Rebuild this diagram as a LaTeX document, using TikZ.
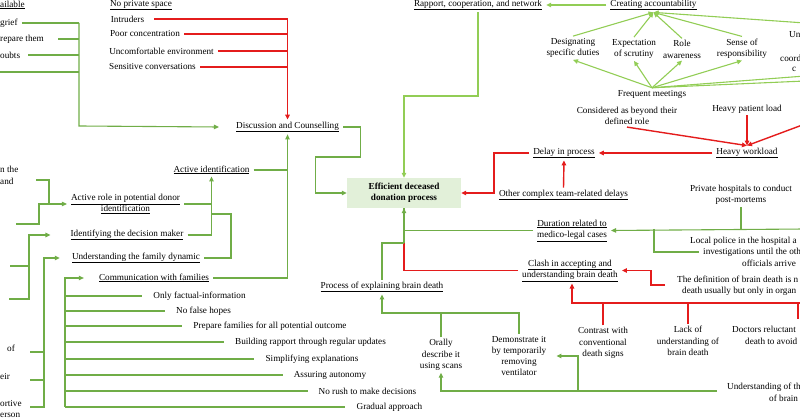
\documentclass[tikz,border=0pt]{standalone}
\usepackage{fontspec}
\setmainfont{Liberation Serif}
\usetikzlibrary{arrows.meta}
\definecolor{dgreen}{RGB}{112,173,71}
\definecolor{lgreen}{RGB}{146,205,85}
\definecolor{dred}{RGB}{228,28,28}
\definecolor{boxfill}{RGB}{226,240,217}

\begin{document}
\begin{tikzpicture}[x=1pt, y=-1pt,
  every node/.style={font=\fontsize{9.2}{11.3}\selectfont, inner xsep=4pt, inner ysep=2pt, align=center},
  frag/.style={anchor=west},
  gline/.style={draw=dgreen, line width=1.1pt},
  lline/.style={draw=lgreen, line width=1.1pt},
  rline/.style={draw=dred, line width=1.4pt},
  >={Triangle[length=5pt,width=4.5pt]}]

  \useasboundingbox (0,0) rectangle (800,419);
  \clip (0,0) rectangle (800,419);

  % Central box
  \node[fill=boxfill, minimum width=114pt, minimum height=30pt, font=\fontsize{9.2}{11.3}\selectfont\bfseries] (Efficient) at (404,193) {Efficient deceased\\donation process};

  % Upper left: cut off items and discussion
  \node[frag] (Available) at (-4,5) {\underline{ailable}};
  \node[frag] (Grief) at (-4,23) {grief};
  \node[frag] (Prepare) at (-4,39) {repare them};
  \node[frag] (Doubts) at (-4,55) {oubts};
  \coordinate (LeftIn) at (0,72);
  \coordinate (LeftJoin) at (79,126);
  \node (Discussion) at (287.5,127) {\underline{Discussion and Counselling}};

  % No private space
  \node (NoSpace) at (141,5) {\underline{No private space}};
  \node (Intruders) at (127.5,19) {Intruders};
  \node (Concentration) at (145,34) {Poor concentration};
  \node (Uncomfortable) at (161.5,51) {Uncomfortable environment};
  \node (Sensitive) at (152.5,67) {Sensitive conversations};

  % Active identification
  \node[frag] (Role1) at (-4,169) {n the};
  \node[frag] (Role2) at (-4,181) {and};
  \coordinate (RoleIn1) at (36,180);
  \coordinate (RoleIn2) at (16,224);
  \node (ActiveRole) at (125.5,204) {\underline{Active role in potential donor}\\\underline{identification}};
  \node (ActiveId) at (211.5,170) {\underline{Active identification}};
  \node (DecisionMaker) at (127,235) {\underline{Identifying the decision maker}};
  \node (FamilyDynamic) at (136,258) {\underline{Understanding the family dynamic}};
  \coordinate (DynJoin) at (231,214);
  \coordinate (DecIn1) at (10,266);
  \coordinate (DecIn2) at (9,299);
  \node[frag] (Left1) at (3,348) {of};
  \node[frag] (Left2) at (-4,376) {eir};
  \node[frag] (Left3) at (-4,403) {ortive};
  \node[frag] (Left4) at (-4,415) {erson};
  \coordinate (DynIn1) at (30,352);
  \coordinate (DynIn2) at (30,380);
  \coordinate (DynIn3) at (30,407);

  % Communication with families
  \node (Communication) at (154,278) {\underline{Communication with families}};
  \coordinate (ComJoin) at (65,278);
  \node (Item1) at (199.5,296) {Only factual-information};
  \node (Item2) at (203.5,311) {No false hopes};
  \node (Item3) at (270,326) {Prepare families for all potential outcome};
  \node (Item4) at (310.5,342) {Building rapport through regular updates};
  \node (Item5) at (312,359) {Simplifying explanations};
  \node (Item6) at (330,375) {Assuring autonomy};
  \node (Item7) at (367.5,391) {No rush to make decisions};
  \node (Item8) at (389.5,407) {Gradual approach};

  % Rapport and accountability
  \node (Rapport) at (478,5) {\underline{Rapport, cooperation, and network}};
  \coordinate (RapJoin) at (404,96);
  \node (Accountability) at (653.5,5) {\underline{Creating accountability}};
  \node (Duties) at (573,48) {Designating\\specific duties};
  \node (Scrutiny) at (634,49) {Expectation\\of scrutiny};
  \node (Awareness) at (682,49.5) {Role\\awareness};
  \node (Responsibility) at (742,48.5) {Sense of\\responsibility};
  \node[frag] (Un1) at (785,35) {Un};
  \node[frag] (Un2) at (776,58) {coord};
  \node[frag] (Un3) at (788,69) {c};
  \coordinate (UnTop) at (805,23);
  \coordinate (UnIn1) at (805,76);
  \coordinate (UnIn2) at (805,81);
  \node (Meetings) at (652,94) {Frequent meetings};

  % Workload and delays
  \node (Beyond) at (627,116) {Considered as beyond their\\defined role};
  \node (PatientLoad) at (747,109) {Heavy patient load};
  \coordinate (LoadIn) at (805,124);
  \node (Workload) at (747,153) {\underline{Heavy workload}};
  \node (Delay) at (564,153) {\underline{Delay in process}};
  \node (TeamDelays) at (563.5,195) {\underline{Other complex team-related delays}};

  % Medico-legal
  \node (Private) at (741,195) {Private hospitals to conduct\\post-mortems};
  \node (Duration) at (572,230.5) {\underline{Duration related to}\\\underline{medico-legal cases}};
  \coordinate (DurIn) at (805,229);
  \node[frag] (Police1) at (686,241) {Local police in the hospital a};
  \node[frag] (Police2) at (699,252) {investigations until the oth};
  \node[frag] (Police3) at (738,263) {officials arrive};

  % Brain death
  \node (Clash) at (570,270.5) {\underline{Clash in accepting and}\\\underline{understanding brain death}};
  \node[frag] (Definition1) at (673,279) {The definition of brain death is n};
  \node[frag] (Definition2) at (678,291) {death usually but only in organ};
  \coordinate (DefIn) at (665,285);
  \coordinate (ClashJoin) at (572,303);
  \coordinate (ClashIn) at (805,303);
  \node (Contrast) at (603,343) {Contrast with\\conventional\\death signs};
  \node (Lack) at (688,341) {Lack of\\understanding of\\brain death};
  \node[frag] (Doctors1) at (728,329) {Doctors reluctant};
  \node[frag] (Doctors2) at (741,341) {death to avoid};
  \coordinate (DocIn) at (798,319);
  \node (Explaining) at (382,287) {\underline{Process of explaining brain death}};
  \coordinate (ExpJoin) at (382,313);
  \coordinate (BoxJoin) at (404,243);
  \node (Orally) at (441,355) {Orally\\describe it\\using scans};
  \node (Demonstrate) at (519,356) {Demonstrate it\\by temporarily\\removing\\ventilator};
  \node[frag] (Understanding1) at (723,387) {Understanding of th};
  \node[frag] (Understanding2) at (765,398) {of brain};
  \coordinate (UndIn) at (717,391);
  \coordinate (UndJoin) at (578,391);

  % Edges: upper left
  \draw[gline] (Grief.east) -- (Grief.east -| LeftJoin);
  \draw[gline] (Prepare.east) ++(10,0) -- (Prepare.east -| LeftJoin);
  \draw[gline] (Doubts.east) ++(4,0) -- (Doubts.east -| LeftJoin);
  \draw[gline] (LeftIn) -- (LeftIn -| LeftJoin);
  \draw[gline,->] (Grief.east -| LeftJoin) -- (LeftJoin) -- ([xshift=-13pt]Discussion.west);

  \draw[rline] (Intruders.east) ++(6,0) -- (Intruders.east -| Discussion.north);
  \draw[rline] (Concentration.east) -- (Concentration.east -| Discussion.north);
  \draw[rline] (Uncomfortable.east) -- (Uncomfortable.east -| Discussion.north);
  \draw[rline] (Sensitive.east) -- (Sensitive.east -| Discussion.north);
  \draw[rline,->] (Intruders.east -| Discussion.north) -- (Discussion.north);

  % Edges: active identification
  \draw[gline] (RoleIn1) -- ++(13,0) -- ++(0,23);
  \draw[gline,->] (RoleIn2) -- ++(23,0) |- (ActiveRole.west);
  \draw[gline] (ActiveRole.east) -- (ActiveRole.east -| ActiveId.south);
  \draw[gline,->] (DecisionMaker.east) -| (ActiveId.south);
  \draw[gline] (FamilyDynamic.east) -| (DynJoin) -- (DynJoin -| ActiveId.south);
  \draw[gline] (DecIn1) -- ++(19,0);
  \draw[gline,->,shorten >=16pt] (DecIn2) -- ++(20,0) |- (DecisionMaker.west);
  \draw[gline] (DynIn1) -- ++(14,0);
  \draw[gline] (DynIn2) -- ++(14,0);
  \draw[gline,->,shorten >=8pt] (DynIn3) -- ++(14,0) |- (FamilyDynamic.west);
  \draw[gline] (ActiveId.east) -- (ActiveId.east -| Discussion.south);
  \draw[gline,->] (Communication.east) -| (Discussion.south);

  % Edges: communication items
  \draw[gline,->,shorten >=11pt] (ComJoin |- Item8.west) -- (ComJoin) -- (Communication.west);
  \foreach \i in {1,...,8}
    \draw[gline,shorten >=7pt] (ComJoin |- Item\i.west) -- (Item\i.west);

  % Edges: discussion and rapport into the box
  \draw[gline,->] (Discussion.east) -- ++(17,0) -- ++(0,30) -- ++(-45,0) |- (Efficient.west);
  \draw[lline,->] (Rapport.south) |- (RapJoin) -- (Efficient.north);
  \draw[lline,->] (Accountability.west) -- (Rapport.east);
  \foreach \n in {Duties,Scrutiny,Awareness,Responsibility}
    \draw[lline,->] (\n.north) -- (Accountability.south);
  \draw[lline,->] (UnTop) -- (Accountability.south);
  \foreach \n in {Duties,Scrutiny,Awareness,Responsibility}
    \draw[lline,->] (Meetings.north) -- (\n.south);
  \draw[lline] (Meetings.north) -- (UnIn1);
  \draw[lline] (Meetings.north) -- (UnIn2);

  % Edges: workload and delays
  \draw[rline,->] (Beyond.south) -- (Workload.north);
  \draw[rline,->] (PatientLoad.south) -- (Workload.north);
  \draw[rline,->] (LoadIn) -- (Workload.north);
  \draw[rline,->] (Workload.west) -- (Delay.east);
  \draw[rline,->] (TeamDelays.north) -- (Delay.south);
  \draw[rline,->] (Delay.west) -- ++(-35,0) |- (Efficient.east);

  % Edges: medico-legal
  \draw[gline] (Private.south) -- (Private.south |- DurIn);
  \draw[gline,->] (DurIn) -- (Duration.east);
  \draw[gline] (654,229) |- (Police2.west);

  % Edges: brain death
  \draw[rline,->] (DefIn) -- ++(-14,0) |- (Clash.east);
  \draw[rline] (Contrast.north) -- (Contrast.north |- ClashJoin);
  \draw[rline] (Lack.north) -- (Lack.north |- ClashJoin);
  \draw[rline] (DocIn) -- (DocIn |- ClashJoin);
  \draw[rline,->] (ClashIn) -- (ClashJoin) -- (ClashJoin |- Clash.south);
  \draw[rline] (Clash.west) -| (Efficient.south);
  \draw[gline] (Duration.west) -| (Efficient.south);
  \draw[gline] (Explaining.north) |- (BoxJoin);
  \draw[gline,->] (BoxJoin) -- (Efficient.south);
  \draw[gline] (Orally.north) -- (Orally.north |- ExpJoin);
  \draw[gline,->] (Demonstrate.north) |- (ExpJoin) -- (Explaining.south);
  \draw[gline,->] (UndIn) -| (Orally.south);
  \draw[gline,->,shorten >=6pt] (UndJoin) |- (Demonstrate.east);

\end{tikzpicture}
\end{document}
